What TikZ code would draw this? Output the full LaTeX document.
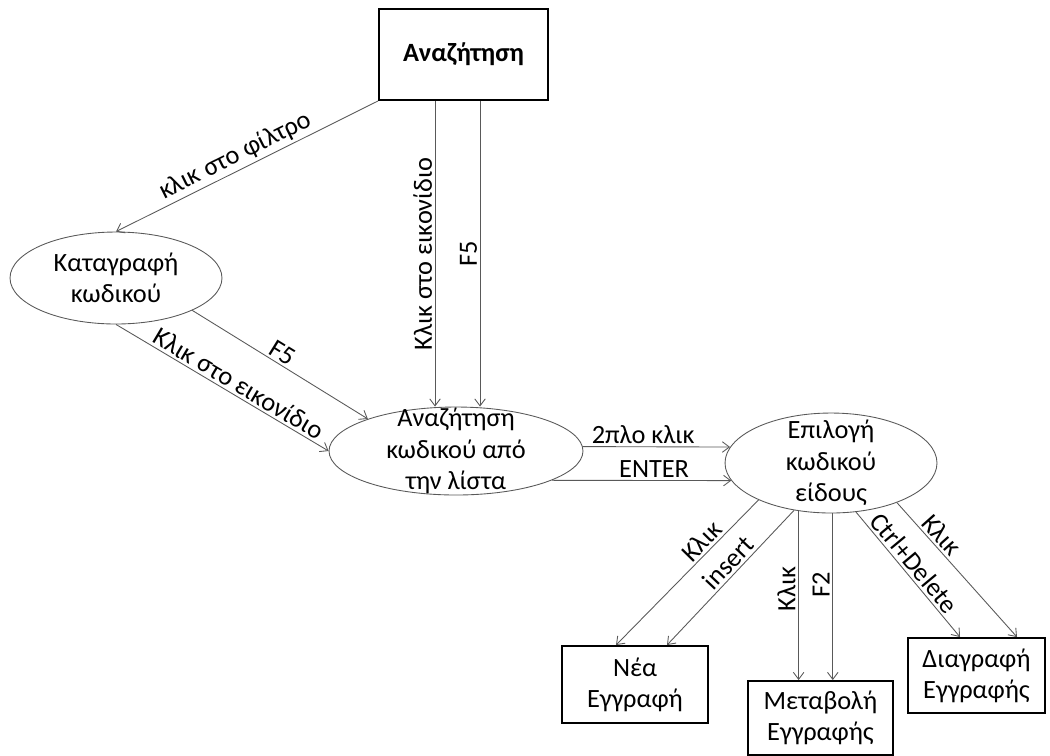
\documentclass[tikz,border=0pt]{standalone}
\usepackage{fontspec}
\setmainfont{Carlito}
\usetikzlibrary{arrows.meta, shapes.geometric}

\begin{document}
\begin{tikzpicture}[x=0.02cm, y=-0.02cm,
        >={Straight Barb[length=4pt,width=6pt]},
        police/.style={font=\fontsize{15}{17.8}\selectfont},
        boite/.style={draw, line width=1.1pt, align=center, inner sep=0pt, police},
        bulle/.style={draw=black!65, line width=0.5pt, ellipse, inner sep=0pt},
        texte/.style={align=center, police},
        fleche/.style={->, draw=black!65, line width=0.5pt},
        lbl/.style={above, inner sep=1.5pt, police},
        etiq/.style={lbl, sloped},
        etiqV/.style={lbl, rotate=90}]

                % Cadre
                \useasboundingbox (0,0) rectangle (1050,755);

                % Boites
                \node[boite, font=\fontsize{15}{17.8}\selectfont\bfseries, minimum width=3.38cm, minimum height=1.82cm] (recherche) at (463.5,54.5) {Αναζήτηση};
                \node[boite, minimum width=2.92cm, minimum height=1.54cm] (nouveau) at (635,684.5) {Νέα\\Εγγραφή};
                \node[boite, minimum width=2.9cm, minimum height=1.48cm] (modif) at (820.5,718) {Μεταβολή\\Εγγραφής};
                \node[boite, minimum width=2.74cm, minimum height=1.5cm] (suppr) at (976.5,675.5) {Διαγραφή\\Εγγραφής};

                % Ellipses
                \node[bulle, minimum width=4.24cm, minimum height=1.84cm] (saisie) at (116,278) {};
                \node[bulle, minimum width=5.08cm, minimum height=1.76cm] (liste) at (456,451) {};
                \node[bulle, minimum width=4.24cm, minimum height=2cm] (choix) at (831,463) {};

                % Textes des ellipses
                \node[texte] (saisieTxt) at (saisie) {Καταγραφή\\κωδικού};
                \node[texte] (listeTxt) at (liste) {Αναζήτηση\\κωδικού από\\την λίστα};
                \node[texte] (choixTxt) at (choix) {Επιλογή\\κωδικού\\είδους};

                % Fleches du haut
                \draw[fleche] (recherche.south west) -- node[etiq, pos=0.52] {κλικ στο φίλτρο} (saisie.north);
                \draw[fleche] ([xshift=-0.57cm]recherche.south) -- node[etiqV] {Κλικ στο εικονίδιο} ([xshift=-0.57cm]recherche.south |- liste.north);
                \draw[fleche] ([xshift=0.33cm]recherche.south) -- node[etiqV] {F5} ([xshift=0.33cm]recherche.south |- liste.north);

                % Fleches vers la liste
                \draw[fleche] (saisie.-23) -- node[etiq, pos=0.48] {F5} (liste.160);
                \draw[fleche] (saisie.south) -- node[etiq, pos=0.55] {Κλικ στο εικονίδιο} (liste.west);

                % Fleches vers le choix
                \draw[fleche] (liste.2) -- node[etiq, pos=0.41] {2πλο κλικ} (choix.171);
                \draw[fleche] (liste.-17) -- node[etiq, pos=0.57] {ENTER} (choix.190);

                % Fleches vers les boites
                \draw[fleche] (choix.207) -- node[etiq, pos=0.34] {Κλικ} ([xshift=-0.38cm]nouveau.north);
                \draw[fleche] (choix.232) -- node[etiq, pos=0.45] {insert} ([xshift=0.64cm]nouveau.north);
                \draw[fleche] (choix.236) -- node[etiqV, pos=0.46] {Κλικ} (choix.236 |- modif.north);
                \draw[fleche] (choix.272) -- node[etiqV, pos=0.43] {F2} (choix.272 |- modif.north);
                \draw[fleche] (choix.-63) -- node[etiq, pos=0.47] {Ctrl+Delete} ([xshift=-0.33cm]suppr.north);
                \draw[fleche] (choix.-31) -- node[etiq, pos=0.3] {Κλικ} ([xshift=0.81cm]suppr.north);
\end{tikzpicture}
\end{document}
